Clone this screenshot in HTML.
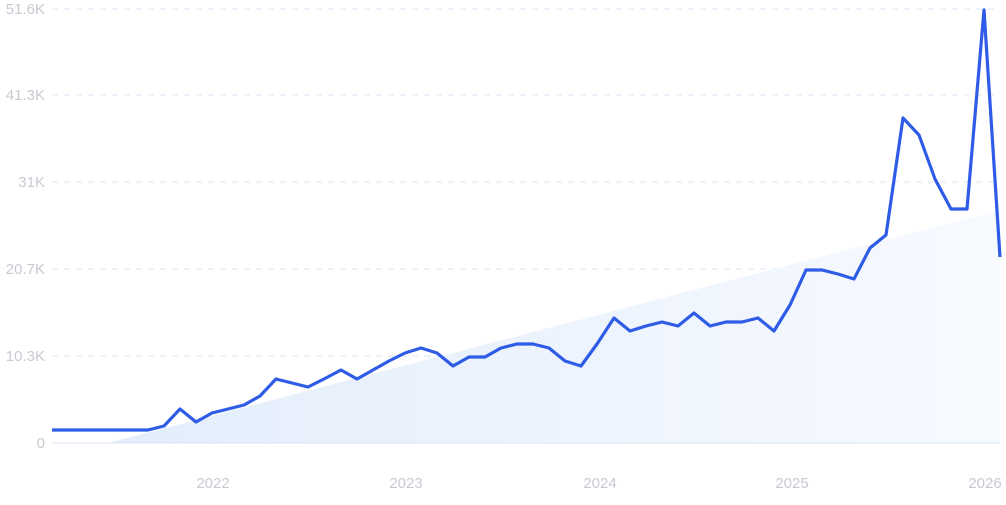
<!DOCTYPE html>
<html><head><style>
body{margin:0;background:#fff;width:1006px;height:500px;overflow:hidden}
svg text{font-family:"Liberation Sans",sans-serif;font-size:15px;fill:#c8cad3}
</style></head><body>
<svg width="1006" height="500" viewBox="0 0 1006 500">
<defs>
<linearGradient id="g" x1="0" y1="0" x2="1" y2="0">
<stop offset="0" stop-color="#e3edfb"/><stop offset="1" stop-color="#f7faff"/>
</linearGradient>
</defs>
<g stroke="#dde6f7" stroke-dasharray="6,6" stroke-width="1">
<line x1="52" y1="9" x2="1000" y2="9"/>
<line x1="52" y1="95" x2="1000" y2="95"/>
<line x1="52" y1="182" x2="1000" y2="182"/>
<line x1="52" y1="269" x2="1000" y2="269"/>
<line x1="52" y1="356" x2="1000" y2="356"/>
</g>
<polygon points="108,443 1000,210 1000,443" fill="url(#g)"/>
<line x1="52" y1="443" x2="1000" y2="443" stroke="#d8e3f6" stroke-width="1"/>
<g text-anchor="end">
<text x="45" y="14">51.6K</text>
<text x="45" y="100">41.3K</text>
<text x="45" y="187">31K</text>
<text x="45" y="274">20.7K</text>
<text x="45" y="361">10.3K</text>
<text x="45" y="448">0</text>
</g>
<g text-anchor="middle">
<text x="213" y="488">2022</text>
<text x="406" y="488">2023</text>
<text x="600" y="488">2024</text>
<text x="792" y="488">2025</text>
<text x="985" y="488">2026</text>
</g>
<polyline fill="none" stroke="#2e5ce6" stroke-width="3.2" stroke-linejoin="round" points="52,430 148,430 164,426 180,409 196,422 212,413 228,409 244,405 260,396 276,379 292,383 308,387 324,379 341,370 357,379 373,370 389,361 405,353 421,348 437,353 453,366 469,357 485,357 501,348 517,344 533,344 549,348 565,361 581,366 597,344 614,318 630,331 646,326 662,322 678,326 694,313 710,326 726,322 742,322 758,318 774,331 790,305 806,270 822,270 838,274 854,279 870,248 886,235 903,118 919,135 935,179 951,209 967,209 984,10 1000,257"/>
</svg>
</body></html>
